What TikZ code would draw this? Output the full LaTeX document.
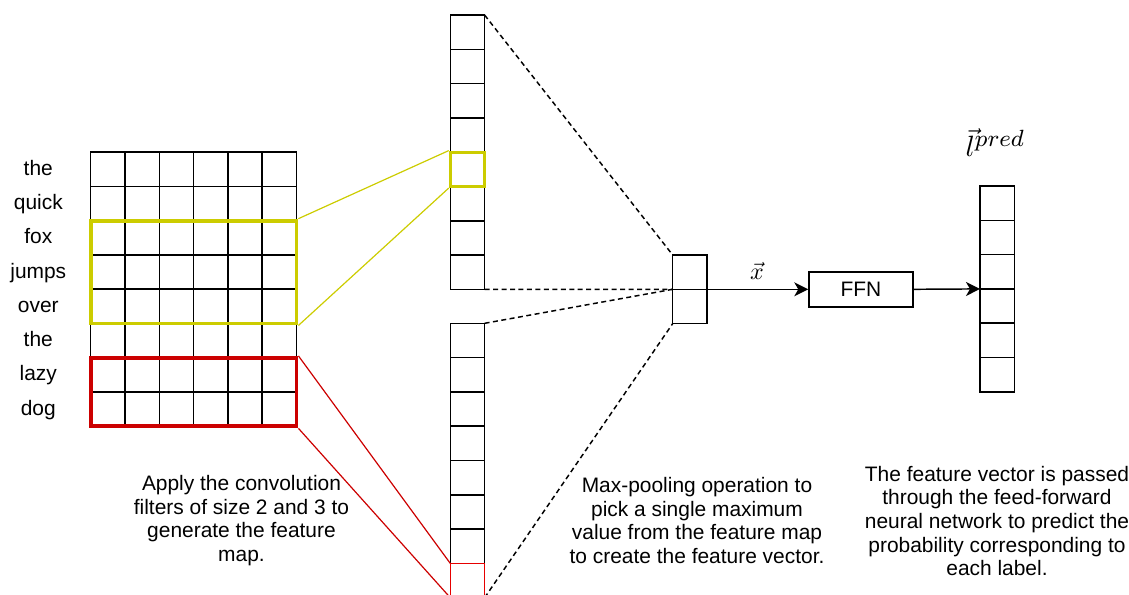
\documentclass[tikz,border=0pt]{standalone}
\usepackage{fontspec}
\setmainfont{Liberation Sans}
\usetikzlibrary{fit,arrows.meta}
% slightly larger superscripts for the label math
\DeclareMathSizes{10}{10}{8}{6}

\definecolor{hlyellow}{RGB}{204,204,0}
\definecolor{hlred}{RGB}{204,0,0}
\definecolor{cellred}{RGB}{230,0,0}

\tikzset{
  cell/.style={draw, line width=1.1pt, minimum size=25.725pt, inner sep=0pt, outer sep=0pt},
  word/.style={font=\fontsize{15.7pt}{17.8pt}\selectfont, text height=12pt, text depth=3pt, inner sep=0pt},
  txt/.style={font=\fontsize{15.7pt}{17.8pt}\selectfont, align=center, inner sep=0pt},
  ybox/.style={draw=hlyellow, line width=2.9pt, inner sep=0pt},
  rbox/.style={draw=hlred, line width=2.9pt, inner sep=0pt},
  yline/.style={draw=hlyellow, line width=0.9pt},
  rline/.style={draw=hlred, line width=0.9pt},
  dline/.style={draw, line width=1.1pt, dash pattern=on 3.75pt off 2.6pt},
  arr/.style={draw, line width=1.1pt, -{Stealth[length=10.5pt, width=10.5pt, inset=3pt]}},
  mathlab/.style={font=\fontsize{10pt}{12pt}\selectfont, inner sep=0pt}
}

\begin{document}
\begin{tikzpicture}[x=0.75pt, y=-0.75pt]
  \clip (0,0) rectangle (1129,594);

  % word embedding matrix: 8 words x 6 dimensions
  \foreach \r in {1,...,8}
    \foreach \c in {1,...,6}
      \node[cell] (g-\r-\c) at ({90.7+34.3*(\c-0.5)}, {152+34.3*(\r-0.5)}) {};
  \foreach \w [count=\r] in {the,quick,fox,jumps,over,the,lazy,dog}
    \node[word] (w\r) at (38.3, {152+34.3*(\r-0.5)}) {\w};

  % feature maps
  \foreach \i in {1,...,8}
    \node[cell] (a\i) at (467.45, {15+34.3*(\i-0.5)}) {};
  \foreach \i in {1,...,7}
    \node[cell] (b\i) at (467.45, {323.3+34.3*(\i-0.5)}) {};
  \node[cell, draw=cellred, line width=1pt] (b8) at (467.45, {323.3+34.3*7.5}) {};

  % pooled feature vector
  \node[cell] (p1) at (689.85, {255+34.3*0.5}) {};
  \node[cell] (p2) at (689.85, {255+34.3*1.5}) {};

  % output vector
  \foreach \i in {1,...,6}
    \node[cell] (o\i) at (997.15, {186+34.3*(\i-0.5)}) {};

  % convolution windows
  \node[ybox, fit=(g-3-1)(g-5-6)] (ywin) {};
  \node[rbox, fit=(g-7-1)(g-8-6)] (rwin) {};
  \node[draw=hlyellow, line width=2.4pt, inner sep=0pt, fit=(a5)] (ycell) {};

  \draw[yline] (ywin.north east) -- (ycell.north west);
  \draw[yline] (ywin.south east) -- (ycell.south west);
  \draw[rline] (rwin.north east) -- (b8.north west);
  \draw[rline] (rwin.south east) -- (b8.south west);

  % max pooling
  \draw[dline] (a1.north east) -- (p1.north west);
  \draw[dline] (a8.south east) -- (p1.south west);
  \draw[dline] (b1.north east) -- (p1.south west);
  \draw[dline] (b8.south east) -- (p2.south west);

  % classifier
  \node[draw, line width=1.1pt, minimum width=78pt, minimum height=26.25pt, inner sep=0pt,
        font=\fontsize{15.7pt}{17.8pt}\selectfont] (ffn) at (861, 289.3) {FFN};
  \draw[arr] (p1.south east) -- (ffn.west);
  \draw[arr] (ffn.east) -- (o3.south west);

  \node[mathlab] (xlab) at (757, 270.5) {\scalebox{1.8}{$\vec{x}$}};
  \node[mathlab] (llab) at (995.5, 142.5) {\scalebox{2.2}{$\vec{l}^{pred}$}};

  % captions
  \node[txt] (t1) at (241.5, 520.5) {Apply the convolution\\filters of size 2 and 3 to\\generate the feature\\map.};
  \node[txt] (t2) at (697, 520.5) {Max-pooling operation to\\pick a single maximum\\value from the feature map\\to create the feature vector.};
  \node[txt] (t3) at (997, 521) {The feature vector is passed\\through the feed-forward\\neural network to predict the\\probability corresponding to\\each label.};
\end{tikzpicture}
\end{document}
